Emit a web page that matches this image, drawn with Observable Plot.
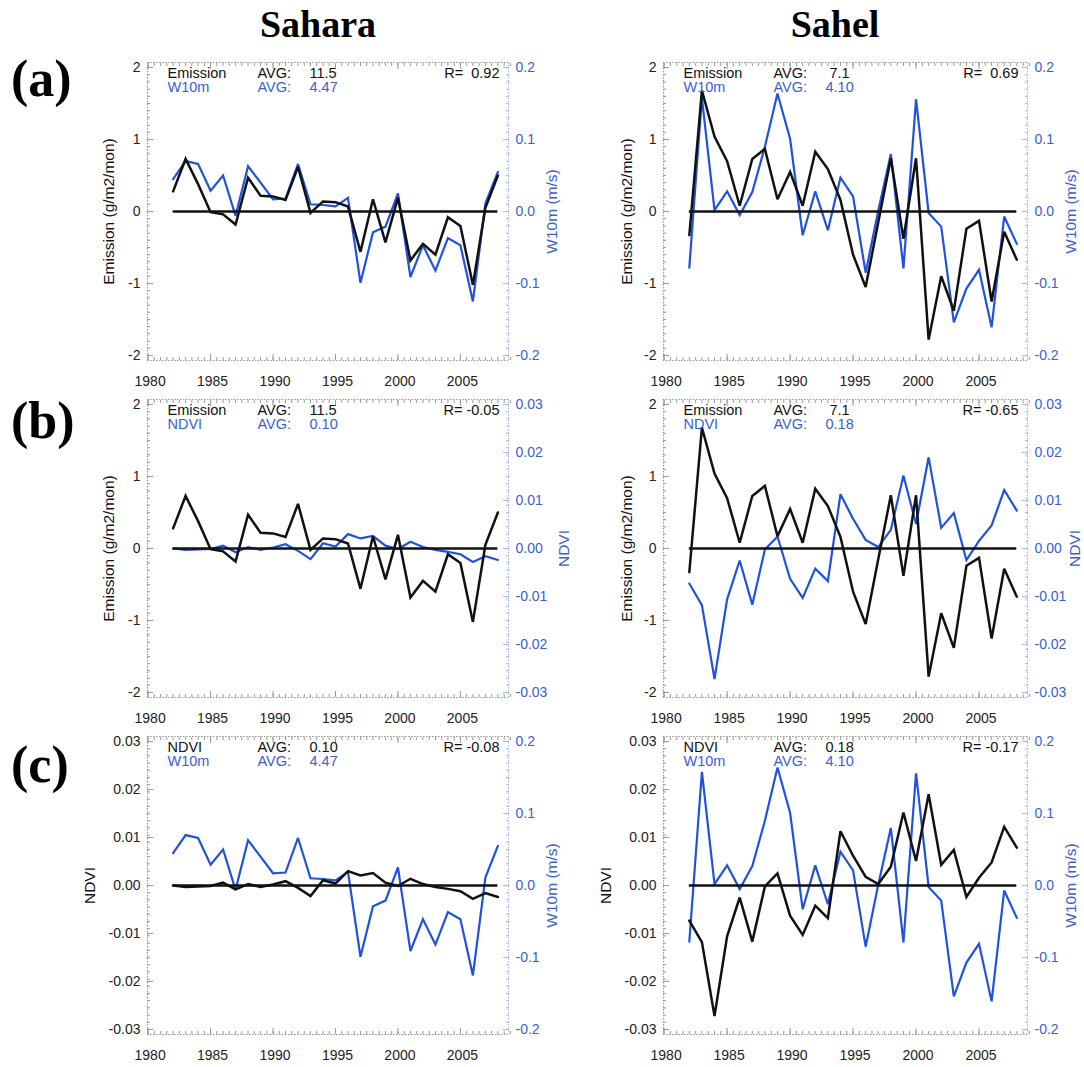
<!DOCTYPE html>
<html>
<head>
<meta charset="utf-8">
<script src="https://cdn.jsdelivr.net/npm/d3@7"></script>
<script src="https://cdn.jsdelivr.net/npm/@observablehq/plot@0.6"></script>
<style>
  body { margin: 0; background: #fff; }
  #fig { position: relative; width: 1084px; height: 1067px; overflow: hidden; background: #fff;
         font-family: "Liberation Sans", Arial, sans-serif; }
  #fig svg { position: absolute; }
  #fig svg text, #fig svg tspan { white-space: pre; }
</style>
</head>
<body>
<div id="fig"></div>
<script>
// Annual anomalies, 1982-2008
const years = [1982, 1983, 1984, 1985, 1986, 1987, 1988, 1989, 1990, 1991, 1992, 1993, 1994, 1995,
               1996, 1997, 1998, 1999, 2000, 2001, 2002, 2003, 2004, 2005, 2006, 2007, 2008];

const regions = ["Sahara", "Sahel"];
const rowTags = ["(a)", "(b)", "(c)"];

// Dust emission anomaly (g/m2/mon)
const saharaEmission = [0.28, 0.73, 0.38, -0.01, -0.04, -0.18, 0.47, 0.22, 0.21, 0.16, 0.62, -0.02, 0.14,
                        0.13, 0.07, -0.56, 0.17, -0.43, 0.19, -0.68, -0.45, -0.60, -0.08, -0.20, -1.02, 0.05, 0.50];
const sahelEmission  = [-0.33, 1.68, 1.04, 0.70, 0.08, 0.73, 0.87, 0.17, 0.55, 0.08, 0.83, 0.59, 0.16,
                        -0.60, -1.05, -0.15, 0.74, -0.38, 0.74, -1.78, -0.90, -1.38, -0.24, -0.13, -1.25, -0.28, -0.67];

// 10 m wind speed anomaly (m/s)
const saharaW10m = [0.045, 0.070, 0.066, 0.029, 0.050, -0.006, 0.063, 0.040, 0.017, 0.018, 0.066, 0.010, 0.009,
                    0.007, 0.019, -0.099, -0.029, -0.021, 0.025, -0.091, -0.047, -0.082, -0.037, -0.047, -0.125, 0.011, 0.055];
const sahelW10m  = [-0.078, 0.158, 0.002, 0.028, -0.005, 0.027, 0.090, 0.164, 0.101, -0.033, 0.028, -0.026, 0.047,
                    0.021, -0.085, 0.001, 0.080, -0.079, 0.156, -0.002, -0.021, -0.154, -0.107, -0.081, -0.161, -0.007, -0.045];

// NDVI anomaly
const saharaNDVI = [0.0000, -0.0003, -0.0002, -0.0001, 0.0006, -0.0008, 0.0003, -0.0003, 0.0002, 0.0009, -0.0005, -0.0022, 0.0011,
                    0.0004, 0.0030, 0.0021, 0.0026, 0.0006, -0.0001, 0.0014, 0.0003, -0.0003, -0.0007, -0.0012, -0.0028, -0.0016, -0.0024];
const sahelNDVI  = [-0.0073, -0.0118, -0.0272, -0.0106, -0.0025, -0.0117, -0.0002, 0.0025, -0.0063, -0.0103, -0.0042, -0.0068, 0.0113,
                    0.0062, 0.0018, 0.0003, 0.0039, 0.0152, 0.0051, 0.0190, 0.0043, 0.0074, -0.0024, 0.0016, 0.0048, 0.0122, 0.0079];

// Long-term means per region [Sahara, Sahel]
const emissionAvg = [11.5, 7.1];
const w10mAvg = [4.47, 4.10];
const ndviAvg = [0.10, 0.18];

// Correlation coefficients per row, [Sahara, Sahel]
const corrEmissionW10m = [0.92, 0.69];
const corrEmissionNDVI = [-0.05, -0.65];
const corrNDVIW10m = [-0.08, -0.17];

// Tick labels
const xTicks = [1980, 1985, 1990, 1995, 2000, 2005];
const emissionTicks = [-2, -1, 0, 1, 2];
const w10mTicks = [-0.2, -0.1, 0.0, 0.1, 0.2];
const ndviTicks = [-0.03, -0.02, -0.01, 0.00, 0.01, 0.02, 0.03];

// ---- styling ----
const BLUE_LINE = "#2152df";
const BLUE_TEXT = "#3a5ed4";
const BLUE_FRAME = "#a9b9e6";
const GREY_FRAME = "#9a9a9a";
const DOTS = "1.6,1.4";

// gaps of the rotated axis titles from the frame, [left column, right column]
const variables = {
  emission: { name: "Emission", title: "Emission (g/m2/mon)", ticks: emissionTicks, lim: 2,
              fmt: d => String(d), avgFmt: v => v.toFixed(1).padStart(4, " "),
              series: [saharaEmission, sahelEmission], avg: emissionAvg, leftGap: [38, 36], rightGap: [54, 48] },
  w10m:     { name: "W10m", title: "W10m (m/s)", ticks: w10mTicks, lim: 0.2,
              fmt: d => d.toFixed(1), avgFmt: v => v.toFixed(2),
              series: [saharaW10m, sahelW10m], avg: w10mAvg, leftGap: [57, 57], rightGap: [44, 44] },
  ndvi:     { name: "NDVI", title: "NDVI", ticks: ndviTicks, lim: 0.03,
              fmt: d => d.toFixed(2), avgFmt: v => v.toFixed(2),
              series: [saharaNDVI, sahelNDVI], avg: ndviAvg, leftGap: [57, 57], rightGap: [56, 48] }
};

const rows = [
  { left: "emission", right: "w10m", corr: corrEmissionW10m },
  { left: "emission", right: "ndvi", corr: corrEmissionNDVI },
  { left: "ndvi",     right: "w10m", corr: corrNDVIW10m }
];

// frame geometry (page pixels)
const colLeft = [147, 663];
const colWidth = [361, 364];
const rowTop = [62, 399, 736];
const frameH = 298;
const xDomain = [1979.95, 2008.85];
const PAD = 1.035;                // y range runs slightly past the outer tick
const ML = 110, MR = 110, MT = 14, MB = 46;

const fig = document.getElementById("fig");

function minorTicks(v) {
  const step = v.lim / 20;
  return d3.range(-20, 21).map(i => i * step);
}
const minorX = d3.range(1980, 2009.01, 0.5);

function corrString(r) {
  return "R= " + (r < 0 ? "" : " ") + r.toFixed(2);
}

function place(svg, left, top) {
  svg.style.left = left + "px";
  svg.style.top = top + "px";
  fig.appendChild(svg);
}

function panel(col, rowIndex) {
  const row = rows[rowIndex];
  const L = variables[row.left], R = variables[row.right];
  const W = colWidth[col];
  const size = { width: ML + W + MR, height: MT + frameH + MB,
                 marginLeft: ML, marginRight: MR, marginTop: MT, marginBottom: MB };
  const style = { background: "transparent", overflow: "visible",
                  fontFamily: "'Liberation Sans', Arial, sans-serif", fontSize: "14px" };
  const leftData = years.map((year, i) => ({ year, value: L.series[col][i] }));
  const rightData = years.map((year, i) => ({ year, value: R.series[col][i] }));
  const leftDomain = [-L.lim * PAD, L.lim * PAD];
  const rightDomain = [-R.lim * PAD, R.lim * PAD];

  // right-hand (blue) series with its own axis, drawn underneath
  const back = Plot.plot({
    ...size, style,
    x: { domain: xDomain, label: null, axis: null },
    y: { domain: rightDomain, label: null },
    marks: [
      Plot.ruleX([xDomain[1]], { stroke: BLUE_FRAME, strokeWidth: 1.2, strokeDasharray: DOTS }),
      Plot.axisY(minorTicks(R), { anchor: "right", tickSize: -3, tickFormat: () => "", stroke: BLUE_FRAME, label: null }),
      Plot.axisY(R.ticks, { anchor: "right", tickSize: -6, tickFormat: () => "", stroke: BLUE_FRAME, label: null }),
      Plot.axisY(R.ticks, { anchor: "right", tickSize: 0, tickPadding: 7, tickFormat: R.fmt,
                            fill: BLUE_TEXT, fontSize: 14, label: null }),
      Plot.text([R.title], { frameAnchor: "right", dx: R.rightGap[col], rotate: -90, textAnchor: "middle",
                             lineAnchor: "middle", fill: BLUE_TEXT, fontSize: 15.5 }),
      Plot.line(rightData, { x: "year", y: "value", stroke: BLUE_LINE, strokeWidth: 2.2,
                             strokeLinejoin: "miter", strokeMiterlimit: 3 })
    ]
  });

  // left-hand (black) series, frame, x axis and annotations
  const textBase = { frameAnchor: "top-left", textAnchor: "start", lineAnchor: "middle", fontSize: 14.5 };
  const front = Plot.plot({
    ...size, style,
    x: { domain: xDomain, label: null },
    y: { domain: leftDomain, label: null },
    marks: [
      Plot.ruleY(leftDomain, { stroke: GREY_FRAME, strokeWidth: 1.2, strokeDasharray: DOTS }),
      Plot.ruleX([xDomain[0]], { stroke: GREY_FRAME, strokeWidth: 1.2, strokeDasharray: DOTS }),
      Plot.axisX(minorX, { anchor: "bottom", tickSize: -3, tickFormat: () => "", stroke: GREY_FRAME, label: null }),
      Plot.axisX(minorX, { anchor: "top", tickSize: -3, tickFormat: () => "", stroke: GREY_FRAME, label: null }),
      Plot.axisX(xTicks, { anchor: "bottom", tickSize: -6, tickFormat: () => "", stroke: GREY_FRAME, label: null }),
      Plot.axisX(xTicks, { anchor: "top", tickSize: -6, tickFormat: () => "", stroke: GREY_FRAME, label: null }),
      Plot.axisX(xTicks, { anchor: "bottom", tickSize: 0, tickPadding: 16, dx: 2, tickFormat: d => String(d),
                           fill: "#222", fontSize: 14, label: null }),
      Plot.axisY(minorTicks(L), { anchor: "left", tickSize: -3, tickFormat: () => "", stroke: GREY_FRAME, label: null }),
      Plot.axisY(L.ticks, { anchor: "left", tickSize: -6, tickFormat: () => "", stroke: GREY_FRAME, label: null }),
      Plot.axisY(L.ticks, { anchor: "left", tickSize: 0, tickPadding: 7, tickFormat: L.fmt,
                            fill: "#222", fontSize: 14, label: null }),
      Plot.text([L.title], { frameAnchor: "left", dx: -L.leftGap[col], rotate: -90, textAnchor: "middle",
                             lineAnchor: "middle", fill: "#111", fontSize: 15.5 }),
      Plot.line(leftData, { x: "year", y: "value", stroke: "#111", strokeWidth: 2.5,
                            strokeLinejoin: "miter", strokeMiterlimit: 3 }),
      Plot.ruleY([0], { x1: years[0], x2: years[years.length - 1], stroke: "#111", strokeWidth: 2.5 }),
      Plot.text([L.name], { ...textBase, dx: 20, dy: 11, fill: "#111" }),
      Plot.text([R.name], { ...textBase, dx: 20, dy: 25, fill: BLUE_TEXT }),
      Plot.text(["AVG:"], { ...textBase, dx: 110, dy: 11, fill: "#111" }),
      Plot.text(["AVG:"], { ...textBase, dx: 110, dy: 25, fill: BLUE_TEXT }),
      Plot.text([L.avgFmt(L.avg[col])], { ...textBase, dx: 162, dy: 11, fill: "#111" }),
      Plot.text([R.avgFmt(R.avg[col])], { ...textBase, dx: 162, dy: 25, fill: BLUE_TEXT }),
      Plot.text([corrString(row.corr[col])], { ...textBase, frameAnchor: "top-right", textAnchor: "end",
                                               dx: -9, dy: 11, fill: "#111" })
    ]
  });

  const left = colLeft[col] - ML, top = rowTop[rowIndex] - MT;
  place(back, left, top);
  place(front, left, top);
}

for (let r = 0; r < rows.length; ++r) {
  for (let c = 0; c < regions.length; ++c) panel(c, r);
}

// column headings and row tags
const heads = d3.create("svg")
  .attr("width", 1084).attr("height", 1067)
  .style("left", "0px").style("top", "0px")
  .attr("font-family", "'Liberation Serif', 'Times New Roman', serif")
  .attr("font-weight", "bold");
const headX = [318, 835];
heads.selectAll("text.region").data(regions).join("text")
  .attr("class", "region")
  .attr("x", (d, i) => headX[i]).attr("y", 37)
  .attr("text-anchor", "middle").attr("font-size", 38)
  .text(d => d);
const tagY = [96, 438, 782];
heads.selectAll("text.tag").data(rowTags).join("text")
  .attr("class", "tag")
  .attr("x", 11).attr("y", (d, i) => tagY[i])
  .attr("font-size", 52)
  .text(d => d);
fig.appendChild(heads.node());
</script>
</body>
</html>
